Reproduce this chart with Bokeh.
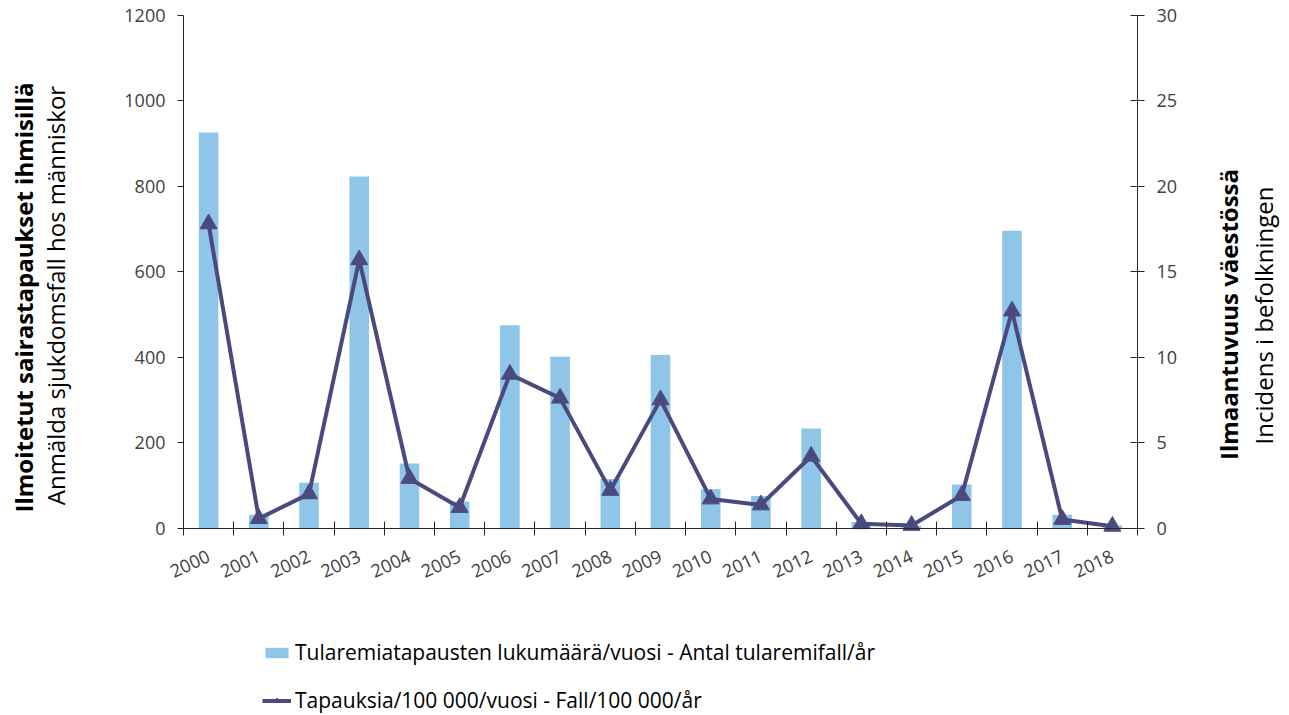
import math
from bokeh.plotting import figure
from bokeh.models import Range1d, LinearAxis, FixedTicker, Label, Legend, LegendItem
from bokeh.embed import file_html
from bokeh.resources import INLINE

years = [str(y) for y in range(2000, 2019)]
cases = [926, 31, 106, 823, 151, 62, 475, 401, 115, 405, 91, 75, 233, 14, 5, 102, 696, 31, 6]
incidence = [17.8, 0.55, 2.0, 15.7, 2.9, 1.2, 9.0, 7.6, 2.2, 7.5, 1.7, 1.35, 4.2, 0.25, 0.15, 1.9, 12.7, 0.5, 0.1]
left_ticks = [0, 200, 400, 600, 800, 1000, 1200]
right_ticks = [0, 5, 10, 15, 20, 25, 30]

bar_label = "Tularemiatapausten lukumäärä/vuosi - Antal tularemifall/år"
line_label = "Tapauksia/100 000/vuosi - Fall/100 000/år"
left_title_bold = "Ilmoitetut sairastapaukset ihmisillä"
left_title = "Anmälda sjukdomsfall hos människor"
right_title_bold = "Ilmaantuvuus väestössä"
right_title = "Incidens i befolkningen"

FONT = "Open Sans"
BAR_COLOR = "#8EC5E8"
LINE_COLOR = "#4B4A7E"
TICK_COLOR = "#404040"
AXIS_COLOR = "#262626"

W, H = 1289, 715
# plot-area edges in canvas pixels
PX_L, PX_R, PX_T, PX_B = 183, 1137, 15, 527.5

n = len(years)
centers = [i + 0.5 for i in range(n)]
bounds = [float(i) for i in range(n + 1)]

x_ppu = (PX_R - PX_L) / n
y_lo, y_hi = left_ticks[0], left_ticks[-1]
y_ppu = (PX_B - PX_T) / (y_hi - y_lo)
x_range = Range1d(-PX_L / x_ppu, n + (W - PX_R) / x_ppu)
y_start = y_lo - (H - PX_B) / y_ppu
y_end = y_hi + PX_T / y_ppu
ratio = (right_ticks[-1] - right_ticks[0]) / (y_hi - y_lo)

p = figure(width=W, height=H, output_backend="svg", toolbar_location=None,
           x_range=x_range, y_range=Range1d(y_start, y_end), min_border=0,
           x_axis_location=None, y_axis_location=None)
p.outline_line_color = None
p.xgrid.visible = False
p.ygrid.visible = False
p.extra_y_ranges = {"right": Range1d(y_start * ratio, y_end * ratio)}

bars = p.vbar(x=centers, top=cases, width=0.39, bottom=0, fill_color=BAR_COLOR, line_color=None)
line = p.line(x=centers, y=incidence, line_color=LINE_COLOR, line_width=4, y_range_name="right")
pts = p.scatter(x=centers, y=incidence, marker="triangle", size=17, fill_color=LINE_COLOR,
                line_color=LINE_COLOR, y_range_name="right")

def style(ax):
    ax.axis_line_color = AXIS_COLOR
    ax.axis_line_width = 1
    ax.major_tick_line_color = AXIS_COLOR
    ax.minor_tick_line_color = AXIS_COLOR
    ax.major_label_text_font = FONT
    ax.major_label_text_font_size = "18px"
    ax.major_label_text_color = TICK_COLOR

xa = LinearAxis(ticker=FixedTicker(ticks=centers, minor_ticks=bounds), fixed_location=y_lo,
                bounds=(0, n))
style(xa)
xa.major_tick_in = 0
xa.major_tick_out = 0
xa.minor_tick_in = 7
xa.minor_tick_out = 7
xa.major_label_overrides = {c: y for c, y in zip(centers, years)}
xa.major_label_orientation = math.radians(25)
xa.major_label_standoff = 20
p.add_layout(xa, "below")

ya = LinearAxis(ticker=FixedTicker(ticks=left_ticks, minor_ticks=[]), fixed_location=0,
                bounds=(y_lo, y_hi))
style(ya)
ya.major_tick_in = 0
ya.major_tick_out = 6
ya.major_label_standoff = 12
p.add_layout(ya, "left")

ra = LinearAxis(y_range_name="right", ticker=FixedTicker(ticks=right_ticks, minor_ticks=[]),
                fixed_location=n, bounds=(right_ticks[0], right_ticks[-1]))
style(ra)
ra.major_tick_in = 7
ra.major_tick_out = 7
ra.major_label_standoff = 12
p.add_layout(ra, "right")

def title(txt, x, y, bold):
    p.add_layout(Label(x=x, y=y, x_units="screen", y_units="screen", text=txt, angle=math.pi / 2,
                       text_align="center", text_baseline="middle", text_font=FONT,
                       text_font_size="24px", text_font_style="bold" if bold else "normal",
                       text_color="black"))

title(left_title_bold, 23, H - 297, True)
title(left_title, 55, H - 295, False)
title(right_title_bold, 1228, H - 314, True)
title(right_title, 1263, H - 315, False)

legend = Legend(items=[LegendItem(label=bar_label, renderers=[bars]),
                       LegendItem(label=line_label, renderers=[line, pts])],
                location=(262, 1), orientation="vertical", padding=0, margin=0,
                spacing=20, glyph_width=29, glyph_height=13, label_height=22,
                label_standoff=4, border_line_alpha=0, background_fill_alpha=0,
                label_text_font=FONT, label_text_font_size="21px", label_text_color="black")
p.add_layout(legend)

open("out.html", "w").write(file_html(p, INLINE))
